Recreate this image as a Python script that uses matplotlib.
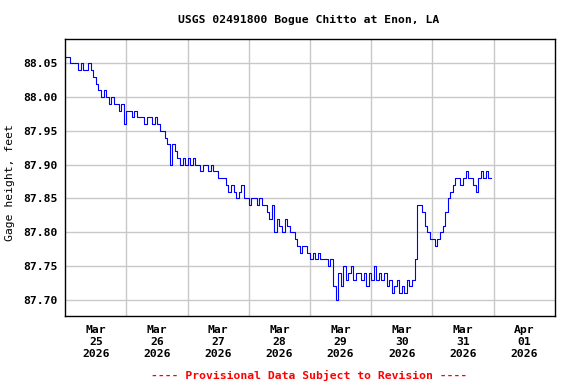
import matplotlib
matplotlib.use("Agg")
import matplotlib.pyplot as plt
import pandas as pd

# hourly gage height readings, Mar 25 00:00 onwards (feet)
mar25 = [88.06, 88.06, 88.05, 88.05, 88.05, 88.04, 88.05, 88.04, 88.04, 88.05, 88.04, 88.03,
         88.02, 88.01, 88.00, 88.01, 88.00, 87.99, 88.00, 87.99, 87.99, 87.98, 87.99, 87.96]
mar26 = [87.98, 87.98, 87.97, 87.98, 87.97, 87.97, 87.97, 87.96, 87.97, 87.97, 87.96, 87.97,
         87.96, 87.95, 87.95, 87.94, 87.93, 87.90, 87.93, 87.92, 87.91, 87.90, 87.91, 87.90]
mar27 = [87.91, 87.90, 87.91, 87.90, 87.90, 87.89, 87.90, 87.90, 87.89, 87.90, 87.89, 87.89,
         87.88, 87.88, 87.88, 87.87, 87.86, 87.87, 87.86, 87.85, 87.86, 87.87, 87.85, 87.85]
mar28 = [87.84, 87.85, 87.85, 87.84, 87.85, 87.84, 87.84, 87.83, 87.82, 87.84, 87.80, 87.82,
         87.81, 87.80, 87.82, 87.81, 87.80, 87.80, 87.79, 87.78, 87.77, 87.78, 87.78, 87.77]
mar29 = [87.76, 87.77, 87.76, 87.77, 87.76, 87.76, 87.76, 87.75, 87.76, 87.72, 87.70, 87.74,
         87.72, 87.75, 87.73, 87.74, 87.75, 87.73, 87.74, 87.74, 87.73, 87.74, 87.72, 87.74]
mar30 = [87.73, 87.75, 87.73, 87.74, 87.73, 87.74, 87.72, 87.73, 87.71, 87.72, 87.73, 87.71,
         87.72, 87.71, 87.73, 87.72, 87.73, 87.76, 87.84, 87.84, 87.83, 87.81, 87.80, 87.79]
mar31 = [87.79, 87.78, 87.79, 87.80, 87.81, 87.83, 87.85, 87.86, 87.87, 87.88, 87.88, 87.87,
         87.88, 87.89, 87.88, 87.88, 87.87, 87.86, 87.88, 87.89, 87.88, 87.89, 87.88, 87.88]

gage = mar25 + mar26 + mar27 + mar28 + mar29 + mar30 + mar31
times = pd.date_range("2026-03-25 00:00", periods=len(gage), freq="h")

yticks = [87.70, 87.75, 87.80, 87.85, 87.90, 87.95, 88.00, 88.05]
day_labels = ["Mar\n25\n2026", "Mar\n26\n2026", "Mar\n27\n2026", "Mar\n28\n2026",
              "Mar\n29\n2026", "Mar\n30\n2026", "Mar\n31\n2026", "Apr\n01\n2026"]

plt.rcParams["font.family"] = "DejaVu Sans Mono"
plt.rcParams["font.weight"] = "bold"
plt.rcParams["font.size"] = 8.2

fig = plt.figure(figsize=(5.76, 3.84), dpi=100)
ax = fig.add_axes([0.1134, 0.1779, 0.8497, 0.7198])

ax.plot(times, gage, color="#0000ff", linewidth=0.8, drawstyle="steps-post")

start = pd.Timestamp("2026-03-25")
ax.set_xlim(start, start + pd.Timedelta(days=8))
ax.set_ylim(87.6766, 88.0855)

# labels sit at noon, grid lines at midnight
noons = [start + pd.Timedelta(hours=12 + 24 * i) for i in range(8)]
mids = [start + pd.Timedelta(days=i) for i in range(1, 8)]
ax.set_xticks(noons)
ax.set_xticklabels(day_labels)
ax.set_xticks(mids, minor=True)
ax.set_yticks(yticks)
ax.set_yticklabels(["%.2f" % v for v in yticks])

ax.tick_params(axis="x", which="both", length=0, pad=7)
ax.tick_params(axis="y", length=0, pad=5.5)
ax.grid(False)
ax.xaxis.grid(True, which="minor", color="#c8c8c8", linewidth=1)
ax.yaxis.grid(True, which="major", color="#c8c8c8", linewidth=1)
ax.set_axisbelow(True)
for s in ax.spines.values():
    s.set_linewidth(1.0)
    s.set_color("black")

ax.set_ylabel("Gage height, feet")
ax.yaxis.set_label_coords(-0.103, 0.48)

fig.text(309 / 576, 1 - 20 / 384, "USGS 02491800 Bogue Chitto at Enon, LA",
         ha="center", va="center")
fig.text(309 / 576, 1 - 375 / 384, "---- Provisional Data Subject to Revision ----",
         ha="center", va="center", color="red")

fig.savefig("out.png", dpi=100)
